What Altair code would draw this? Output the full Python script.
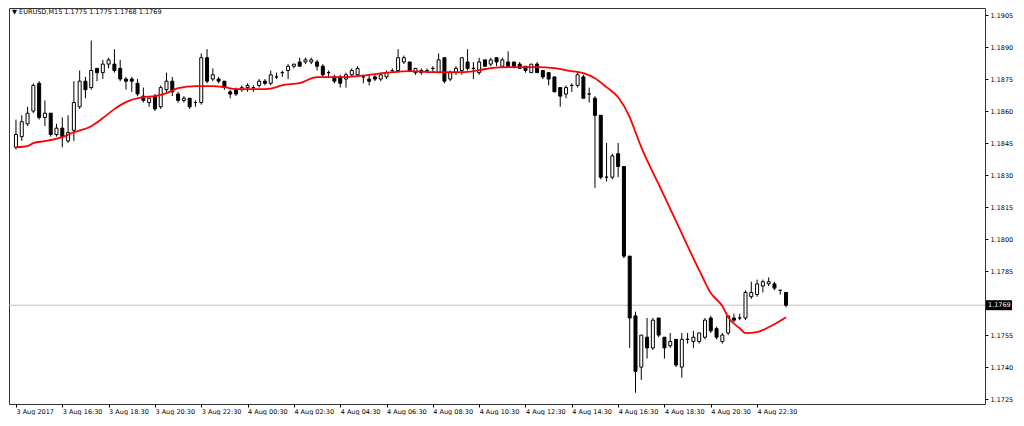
import json

import altair as alt
import pandas as pd

# EURUSD M15 bars, 3 Aug 2017 14:30 -> 4 Aug 2017 23:45 (bar index 0..133)
OPEN = [
    1.1843, 1.1848, 1.1854, 1.1860, 1.1873, 1.1857, 1.1859, 1.1849, 1.1852, 1.1846,
    1.1851, 1.1862, 1.1874, 1.1871, 1.1880, 1.1878, 1.1882, 1.1882, 1.1880, 1.1875,
    1.1875, 1.1873, 1.1867, 1.1864, 1.1867, 1.1862, 1.1870, 1.1874, 1.1868, 1.1865,
    1.1866, 1.1864, 1.1864, 1.1885, 1.1875, 1.1875, 1.1874, 1.1869, 1.1870, 1.1870,
    1.1871, 1.1871, 1.1872, 1.1874, 1.1873, 1.1876, 1.1878, 1.1879, 1.1881, 1.1883,
    1.1883, 1.1883, 1.1883, 1.1881, 1.1878, 1.1876, 1.1876, 1.1875, 1.1877, 1.1877,
    1.1876, 1.1875, 1.1876, 1.1875, 1.1876, 1.1879, 1.1879, 1.1883, 1.1883, 1.1878,
    1.1878, 1.1879, 1.1880, 1.1878, 1.1885, 1.1875, 1.1878, 1.1879, 1.1883, 1.1880,
    1.1878, 1.1884, 1.1882, 1.1885, 1.1881, 1.1883, 1.1883, 1.1882, 1.1881, 1.1878,
    1.1882, 1.1879, 1.1878, 1.1876, 1.1871, 1.1868, 1.1872, 1.1872, 1.1876, 1.1868,
    1.1866, 1.1858, 1.1829, 1.1829, 1.1840, 1.1834, 1.1792, 1.1764, 1.1740, 1.1754,
    1.1749, 1.1763, 1.1754, 1.1750, 1.1753, 1.1740, 1.1753, 1.1752, 1.1752, 1.1754,
    1.1763, 1.1758, 1.1752, 1.1756, 1.1763, 1.1763, 1.1763, 1.1773, 1.1774, 1.1778,
    1.1779, 1.1779, 1.1776, 1.1775,
]
HIGH = [
    1.1856, 1.1858, 1.1862, 1.1873, 1.1874, 1.1865, 1.1859, 1.1854, 1.1857, 1.1858,
    1.1874, 1.1879, 1.1876, 1.1893, 1.1880, 1.1884, 1.1885, 1.1889, 1.1884, 1.1876,
    1.1876, 1.1875, 1.1871, 1.1867, 1.1868, 1.1872, 1.1878, 1.1876, 1.1869, 1.1867,
    1.1866, 1.1865, 1.1887, 1.1889, 1.1880, 1.1876, 1.1874, 1.1870, 1.1871, 1.1872,
    1.1873, 1.1872, 1.1875, 1.1875, 1.1879, 1.1878, 1.1879, 1.1882, 1.1882, 1.1885,
    1.1885, 1.1885, 1.1884, 1.1882, 1.1879, 1.1877, 1.1877, 1.1878, 1.1880, 1.1881,
    1.1877, 1.1877, 1.1877, 1.1878, 1.1879, 1.1880, 1.1889, 1.1886, 1.1883, 1.1880,
    1.1880, 1.1880, 1.1881, 1.1887, 1.1885, 1.1879, 1.1881, 1.1885, 1.1889, 1.1883,
    1.1885, 1.1884, 1.1885, 1.1885, 1.1885, 1.1888, 1.1883, 1.1883, 1.1881, 1.1882,
    1.1883, 1.1879, 1.1878, 1.1876, 1.1871, 1.1872, 1.1873, 1.1878, 1.1877, 1.1871,
    1.1867, 1.1858, 1.1845, 1.1840, 1.1845, 1.1834, 1.1792, 1.1766, 1.1755, 1.1763,
    1.1763, 1.1763, 1.1754, 1.1756, 1.1753, 1.1756, 1.1756, 1.1757, 1.1756, 1.1763,
    1.1764, 1.1759, 1.1756, 1.1764, 1.1765, 1.1765, 1.1776, 1.1780, 1.1781, 1.1781,
    1.1782, 1.1780, 1.1776, 1.1775,
]
LOW = [
    1.1842, 1.1846, 1.1853, 1.1859, 1.1856, 1.1853, 1.1848, 1.1848, 1.1843, 1.1845,
    1.1846, 1.1861, 1.1866, 1.1870, 1.1874, 1.1875, 1.1880, 1.1878, 1.1874, 1.1870,
    1.1869, 1.1867, 1.1864, 1.1862, 1.1860, 1.1861, 1.1869, 1.1867, 1.1864, 1.1864,
    1.1861, 1.1862, 1.1863, 1.1873, 1.1874, 1.1873, 1.1870, 1.1866, 1.1867, 1.1869,
    1.1869, 1.1869, 1.1871, 1.1872, 1.1872, 1.1875, 1.1876, 1.1875, 1.1880, 1.1881,
    1.1882, 1.1882, 1.1879, 1.1876, 1.1876, 1.1873, 1.1871, 1.1871, 1.1876, 1.1876,
    1.1873, 1.1872, 1.1874, 1.1874, 1.1875, 1.1878, 1.1878, 1.1882, 1.1879, 1.1877,
    1.1877, 1.1878, 1.1878, 1.1878, 1.1873, 1.1874, 1.1877, 1.1877, 1.1879, 1.1875,
    1.1877, 1.1881, 1.1881, 1.1881, 1.1881, 1.1881, 1.1880, 1.1880, 1.1878, 1.1878,
    1.1878, 1.1875, 1.1872, 1.1869, 1.1862, 1.1866, 1.1869, 1.1871, 1.1866, 1.1864,
    1.1824, 1.1828, 1.1827, 1.1828, 1.1829, 1.1791, 1.1749, 1.1728, 1.1734, 1.1744,
    1.1748, 1.1754, 1.1744, 1.1749, 1.1740, 1.1735, 1.1751, 1.1749, 1.1751, 1.1753,
    1.1756, 1.1753, 1.1751, 1.1755, 1.1761, 1.1762, 1.1762, 1.1772, 1.1773, 1.1775,
    1.1778, 1.1776, 1.1774, 1.1768,
]
CLOSE = [
    1.1849, 1.1855, 1.1859, 1.1872, 1.1857, 1.1859, 1.1849, 1.1852, 1.1848, 1.1850,
    1.1864, 1.1874, 1.1870, 1.1879, 1.1878, 1.1882, 1.1884, 1.1879, 1.1875, 1.1874,
    1.1874, 1.1868, 1.1865, 1.1866, 1.1861, 1.1871, 1.1874, 1.1869, 1.1865, 1.1866,
    1.1862, 1.1864, 1.1885, 1.1874, 1.1877, 1.1874, 1.1871, 1.1868, 1.1868, 1.1871,
    1.1872, 1.1871, 1.1874, 1.1873, 1.1877, 1.1876, 1.1878, 1.1881, 1.1882, 1.1881,
    1.1884, 1.1884, 1.1881, 1.1877, 1.1878, 1.1874, 1.1873, 1.1877, 1.1879, 1.1880,
    1.1876, 1.1874, 1.1875, 1.1877, 1.1878, 1.1879, 1.1885, 1.1885, 1.1879, 1.1880,
    1.1879, 1.1879, 1.1880, 1.1884, 1.1874, 1.1878, 1.1880, 1.1885, 1.1880, 1.1880,
    1.1883, 1.1881, 1.1884, 1.1883, 1.1884, 1.1881, 1.1881, 1.1880, 1.1879, 1.1882,
    1.1878, 1.1876, 1.1875, 1.1869, 1.1867, 1.1871, 1.1872, 1.1877, 1.1866, 1.1868,
    1.1858, 1.1829, 1.1829, 1.1839, 1.1834, 1.1792, 1.1763, 1.1738, 1.1755, 1.1749,
    1.1762, 1.1755, 1.1749, 1.1752, 1.1741, 1.1753, 1.1753, 1.1754, 1.1756, 1.1762,
    1.1757, 1.1754, 1.1755, 1.1764, 1.1762, 1.1763, 1.1775, 1.1775, 1.1779, 1.1780,
    1.1780, 1.1777, 1.1776, 1.1769,
]

# red moving average at these bar indices
MA_BAR = [
    0, 2, 3, 5, 8, 10, 13, 15, 17, 19,
    22, 24, 26, 28, 31, 34, 36, 38, 40, 43,
    45, 46, 49, 52, 54, 57, 59, 62, 65, 68,
    72, 74, 77, 80, 82, 85, 88, 90, 93, 96,
    98, 100, 102, 104, 106, 107, 108, 111, 114, 118,
    120, 122, 123, 125, 126, 128, 130, 133,
]
MA_VALUE = [
    1.18431, 1.18436, 1.18450, 1.18459, 1.18478, 1.18501, 1.18529, 1.18567, 1.18609, 1.18642,
    1.18665, 1.18670, 1.18684, 1.18707, 1.18717, 1.18717, 1.18712, 1.18703, 1.18703, 1.18703,
    1.18712, 1.18722, 1.18731, 1.18759, 1.18759, 1.18759, 1.18764, 1.18773, 1.18782, 1.18787,
    1.18782, 1.18782, 1.18782, 1.18792, 1.18801, 1.18806, 1.18806, 1.18806, 1.18801, 1.18787,
    1.18778, 1.18754, 1.18712, 1.18665, 1.18572, 1.18501, 1.18431, 1.18257, 1.18084, 1.17854,
    1.17747, 1.17686, 1.17634, 1.17582, 1.17559, 1.17564, 1.17587, 1.17634,
]

TICK_LABELS = [
    "3 Aug 2017", "3 Aug 16:30", "3 Aug 18:30", "3 Aug 20:30", "3 Aug 22:30",
    "4 Aug 00:30", "4 Aug 02:30", "4 Aug 04:30", "4 Aug 06:30", "4 Aug 08:30",
    "4 Aug 10:30", "4 Aug 12:30", "4 Aug 14:30", "4 Aug 16:30", "4 Aug 18:30",
    "4 Aug 20:30", "4 Aug 22:30",
]
TICK_STEP = 8  # one label every 2 hours
Y_TICKS = [
    1.1905, 1.1890, 1.1875, 1.1860, 1.1845, 1.1830, 1.1815,
    1.1800, 1.1785, 1.1755, 1.1740, 1.1725,
]
SYMBOL = "EURUSD,M15"

PLOT_W = 976
PLOT_H = 396
FONT = "DejaVu Sans"
FONT_SIZE = 6.5

candles = pd.DataFrame(
    {"bar": range(len(OPEN)), "open": OPEN, "high": HIGH, "low": LOW, "close": CLOSE}
)
ma = pd.DataFrame({"bar": MA_BAR, "ma": MA_VALUE})
last = pd.DataFrame({"price": [CLOSE[-1]], "label": [f"{CLOSE[-1]:.4f}"]})
header = pd.DataFrame(
    {"label": [f"\u25bc {SYMBOL}  {OPEN[-1]:.4f} {HIGH[-1]:.4f} {LOW[-1]:.4f} {CLOSE[-1]:.4f}"]}
)

x_scale = alt.Scale(domain=[-0.34, 166.5], nice=False, zero=False)
y_scale = alt.Scale(domain=[1.17227, 1.19083], nice=False, zero=False)

x_axis = alt.Axis(
    values=[i * TICK_STEP for i in range(len(TICK_LABELS))],
    labelExpr=f"{json.dumps(TICK_LABELS)}[round(datum.value / {TICK_STEP})]",
    labelAlign="left",
    labelFont=FONT,
    labelFontSize=FONT_SIZE,
    labelColor="black",
    labelPadding=1,
    labelOverlap=False,
    labelFlush=False,
    tickSize=3,
    tickColor="black",
    grid=False,
    domain=False,
    title=None,
)
y_axis = alt.Axis(
    orient="right",
    values=Y_TICKS,
    format=".4f",
    labelFont=FONT,
    labelFontSize=FONT_SIZE,
    labelColor="black",
    labelPadding=2,
    labelOverlap=False,
    labelFlush=False,
    tickSize=3,
    tickColor="black",
    grid=False,
    domain=False,
    title=None,
)


def x_enc(field):
    return alt.X(f"{field}:Q", scale=x_scale, axis=x_axis)


def y_enc(field):
    return alt.Y(f"{field}:Q", scale=y_scale, axis=y_axis)


price_line = alt.Chart(last).mark_rule(color="#c0c0c0", strokeWidth=1).encode(
    y=y_enc("price")
)

wicks = alt.Chart(candles).mark_rule(color="black", strokeWidth=1).encode(
    x=x_enc("bar"),
    y=y_enc("low"),
    y2="high:Q",
)

bodies = alt.Chart(candles).mark_bar(size=3, stroke="black", strokeWidth=1).encode(
    x=x_enc("bar"),
    y=y_enc("open"),
    y2="close:Q",
    fill=alt.condition("datum.close >= datum.open", alt.value("white"), alt.value("black")),
)

ma_line = alt.Chart(ma).mark_line(color="#ff0000", strokeWidth=1.8, interpolate="monotone").encode(
    x=x_enc("bar"),
    y=y_enc("ma"),
)

price_box = alt.Chart(last).mark_rect(color="black", yOffset=-5, y2Offset=5).encode(
    x=alt.value(PLOT_W + 1),
    x2=alt.value(PLOT_W + 27),
    y=y_enc("price"),
    y2="price:Q",
)

price_text = alt.Chart(last).mark_text(
    color="white", align="left", baseline="middle", font=FONT, fontSize=FONT_SIZE
).encode(
    x=alt.value(PLOT_W + 3),
    y=y_enc("price"),
    text="label:N",
)

header_text = alt.Chart(header).mark_text(
    color="black", align="left", baseline="middle", font=FONT, fontSize=FONT_SIZE
).encode(
    x=alt.value(3),
    y=alt.value(4),
    text="label:N",
)

chart = (
    alt.layer(price_line, wicks, bodies, ma_line, price_box, price_text, header_text)
    .properties(width=PLOT_W, height=PLOT_H, padding=0, background="white")
    .configure_view(stroke="#333333", strokeWidth=1)
)

chart.save("out.html", embed_options={"renderer": "svg", "actions": False})
